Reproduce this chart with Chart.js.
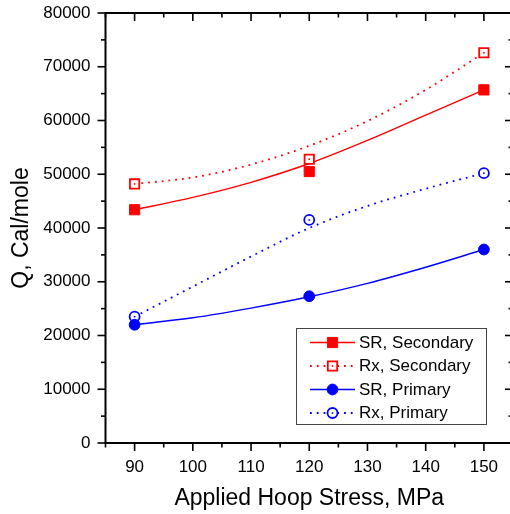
<!DOCTYPE html>
<html><head><meta charset="utf-8">
<script src="https://cdn.jsdelivr.net/npm/chart.js@4.4.0/dist/chart.umd.min.js"></script>
<style>html,body{margin:0;padding:0;overflow:hidden;background:#fff;width:510px;height:514px}
canvas{display:block}</style></head>
<body><canvas id="c" width="514" height="514" style="width:514px;height:514px"></canvas>
<script>
// ---- data ----
const stressValues = [90, 120, 150];
const srSecondary = [43400, 50500, 65700];
const rxSecondary = [48200, 52800, 72600];
const srPrimary   = [22000, 27300, 36000];
const rxPrimary   = [23500, 41500, 50200];
// fitted curves
const fitStress = [90, 100, 110, 120, 130, 140, 150];
const srSecondaryFit = [43400, 45700, 48500, 52000, 56300, 61000, 65700];
const rxSecondaryFit = [48200, 49400, 51800, 55300, 59900, 65700, 72600];
const srPrimaryFit   = [22000, 23300, 25100, 27200, 29700, 32700, 36000];
const rxPrimaryFit   = [23500, 29100, 34700, 40000, 44100, 47300, 50200];
const seriesLabels = ['SR, Secondary', 'Rx, Secondary', 'SR, Primary', 'Rx, Primary'];
const xTickLabels = [90, 100, 110, 120, 130, 140, 150];
const yTickLabels = [0, 10000, 20000, 30000, 40000, 50000, 60000, 70000, 80000];
const xTitle = 'Applied Hoop Stress, MPa';
const yTitle = 'Q, Cal/mole';

// ---- styles ----
const FONT = '"Liberation Sans", Arial, Helvetica, sans-serif';
const RED = '#ff0000', BLUE = '#0000ff';
const DOT = [1.8, 5];
const series = [
  {label: seriesLabels[0], pts: srSecondary, fit: srSecondaryFit, color: RED,  shape: 'rect',   filled: true,  dash: []},
  {label: seriesLabels[1], pts: rxSecondary, fit: rxSecondaryFit, color: RED,  shape: 'rect',   filled: false, dash: DOT},
  {label: seriesLabels[2], pts: srPrimary,   fit: srPrimaryFit,   color: BLUE, shape: 'circle', filled: true,  dash: []},
  {label: seriesLabels[3], pts: rxPrimary,   fit: rxPrimaryFit,   color: BLUE, shape: 'circle', filled: false, dash: DOT},
];

const datasets = [];
series.forEach(s => {
  datasets.push({
    label: s.label + ' fit',
    data: fitStress.map((x, i) => ({x, y: s.fit[i]})),
    showLine: true,
    borderColor: s.color, borderWidth: s.dash.length ? 1.8 : 1.4,
    borderDash: s.dash, pointRadius: 0, fill: false,
    cubicInterpolationMode: 'monotone', order: 2
  });
});
series.forEach(s => {
  const rect = s.shape === 'rect';
  datasets.push({
    label: s.label,
    data: stressValues.map((x, i) => ({x, y: s.pts[i]})),
    showLine: false,
    pointStyle: rect ? 'rect' : 'circle',
    pointRadius: rect ? (s.filled ? 7.2 : 6.6) : (s.filled ? 5.4 : 5.0),
    pointBorderWidth: s.filled ? 1 : 1.8,
    pointBackgroundColor: s.filled ? s.color : '#ffffff',
    pointBorderColor: s.color,
    order: 1,
    openMarker: !s.filled
  });
});

function line(ctx, x1, y1, x2, y2) { ctx.beginPath(); ctx.moveTo(x1, y1); ctx.lineTo(x2, y2); ctx.stroke(); }

function drawMarker(ctx, s, x, y) {
  ctx.save();
  ctx.setLineDash([]);
  ctx.strokeStyle = s.color;
  ctx.fillStyle = s.filled ? s.color : '#fff';
  ctx.lineWidth = s.filled ? 1 : 1.8;
  ctx.beginPath();
  if (s.shape === 'rect') {
    const h = s.filled ? 5.1 : 4.7;
    ctx.rect(x - h, y - h, 2 * h, 2 * h);
  } else {
    ctx.arc(x, y, s.filled ? 5.4 : 5.0, 0, Math.PI * 2);
  }
  ctx.fill(); ctx.stroke();
  if (!s.filled) { ctx.fillStyle = s.color; ctx.fillRect(x - 0.8, y - 0.8, 1.6, 1.6); }
  ctx.restore();
}

const framePlugin = {
  id: 'frame',
  afterDatasetsDraw(chart) {
    const {ctx, chartArea: a, scales: {x, y}} = chart;
    ctx.save();
    chart.data.datasets.forEach((ds, i) => {
      if (!ds.openMarker) return;
      ctx.fillStyle = ds.pointBorderColor;
      chart.getDatasetMeta(i).data.forEach(p => ctx.fillRect(p.x - 0.8, p.y - 0.8, 1.6, 1.6));
    });
    ctx.strokeStyle = '#000';
    ctx.lineWidth = 2;
    ctx.strokeRect(a.left, a.top, a.right - a.left, a.bottom - a.top);
    ctx.lineWidth = 1.6;
    for (let v = x.min; v <= x.max + 0.01; v += 5) {
      const px = x.getPixelForValue(v);
      const L = (v % 10 === 0) ? 8 : 4.5;
      line(ctx, px, a.bottom, px, a.bottom + L);
      line(ctx, px, a.top, px, a.top + L);
    }
    for (let v = y.min; v <= y.max + 0.01; v += 5000) {
      const py = y.getPixelForValue(v);
      const L = (v % 10000 === 0) ? 8 : 4.5;
      line(ctx, a.left - L, py, a.left, py);
      line(ctx, a.right - L, py, a.right, py);
    }
    ctx.restore();
  },
  afterDraw(chart) {
    const ctx = chart.ctx;
    ctx.save();
    ctx.strokeStyle = '#444';
    ctx.lineWidth = 1;
    ctx.strokeRect(296.5, 328.5, 190, 96);
    const rows = [342.5, 366, 389.5, 413];
    series.forEach((s, i) => {
      const ry = rows[i];
      ctx.strokeStyle = s.color;
      ctx.lineWidth = s.dash.length ? 1.8 : 1.4;
      ctx.setLineDash(s.dash);
      line(ctx, 310, ry, 355, ry);
      ctx.setLineDash([]);
      drawMarker(ctx, s, 332.5, ry);
      ctx.fillStyle = '#000';
      ctx.font = '17px ' + FONT;
      ctx.textBaseline = 'middle';
      ctx.textAlign = 'left';
      ctx.fillText(s.label, 359, ry + 0.5);
    });
    ctx.restore();
  }
};

new Chart(document.getElementById('c'), {
  type: 'scatter',
  data: {datasets},
  options: {
    responsive: false, animation: false, devicePixelRatio: 1,
    layout: {autoPadding: false, padding: {top: 13, right: 1, left: 0, bottom: 0}},
    plugins: {legend: {display: false}, tooltip: {enabled: false}},
    scales: {
      x: {
        type: 'linear', min: 85, max: 155,
        afterFit: s => { s.height = 71; s.paddingLeft = 0; s.paddingRight = 0; },
        afterBuildTicks: s => { s.ticks = xTickLabels.map(v => ({value: v})); },
        grid: {display: false, drawTicks: false},
        border: {display: false},
        ticks: {color: '#000', font: {family: FONT, size: 17}, padding: 14, maxRotation: 0, autoSkip: false,
                callback: v => String(v)},
        title: {display: true, text: xTitle, color: '#000', font: {family: FONT, size: 23}, padding: {top: 0, bottom: 2}}
      },
      y: {
        type: 'linear', min: 0, max: 80000,
        afterFit: s => { s.width = 105.5; s.paddingTop = 0; s.paddingBottom = 0; },
        afterBuildTicks: s => { s.ticks = yTickLabels.map(v => ({value: v})); },
        grid: {display: false, drawTicks: false},
        border: {display: false},
        ticks: {color: '#000', font: {family: FONT, size: 17}, padding: 15, autoSkip: false,
                callback: v => String(v)},
        title: {display: true, text: yTitle, color: '#000', font: {family: FONT, size: 23}, padding: {top: 8, bottom: 0}}
      }
    }
  },
  plugins: [framePlugin]
});
</script>
</body></html>
